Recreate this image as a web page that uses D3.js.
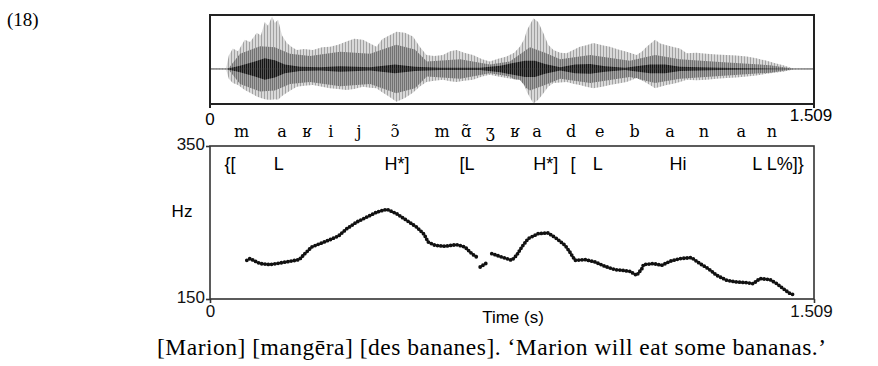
<!DOCTYPE html>
<html>
<head>
<meta charset="utf-8">
<script src="https://cdn.jsdelivr.net/npm/d3@7"></script>
<style>
  html, body { margin: 0; padding: 0; background: #fff; }
  svg { display: block; }
</style>
</head>
<body>
<svg id="fig" width="878" height="366"></svg>
<script>
// ---- data -------------------------------------------------------------
const duration = 1.509;

// waveform outer envelope (time s, upper / lower amplitude)
const waveTime = [0, 0.040, 0.047, 0.057, 0.070, 0.087, 0.100, 0.117, 0.127, 0.137, 0.145, 0.155, 0.162, 0.170, 0.180, 0.192, 0.205, 0.217, 0.235, 0.257, 0.280, 0.300, 0.320, 0.341, 0.360, 0.382, 0.400, 0.416, 0.430, 0.445, 0.466, 0.487, 0.507, 0.525, 0.541, 0.560, 0.582, 0.600, 0.616, 0.635, 0.657, 0.680, 0.699, 0.720, 0.741, 0.760, 0.774, 0.785, 0.792, 0.808, 0.820, 0.833, 0.845, 0.858, 0.875, 0.891, 0.910, 0.924, 0.940, 0.958, 0.980, 0.999, 1.020, 1.041, 1.066, 1.080, 1.091, 1.112, 1.125, 1.141, 1.160, 1.174, 1.191, 1.215, 1.241, 1.265, 1.291, 1.315, 1.341, 1.365, 1.391, 1.410, 1.432, 1.457, 1.509];
const waveUpper = [0, 0.01, 0.25, 0.38, 0.33, 0.54, 0.50, 0.67, 0.62, 0.87, 0.80, 0.97, 0.85, 0.91, 0.62, 0.48, 0.40, 0.35, 0.37, 0.35, 0.40, 0.41, 0.45, 0.51, 0.56, 0.54, 0.47, 0.41, 0.55, 0.61, 0.69, 0.67, 0.60, 0.40, 0.26, 0.24, 0.26, 0.33, 0.35, 0.30, 0.26, 0.18, 0.14, 0.19, 0.23, 0.30, 0.41, 0.55, 0.72, 0.94, 0.87, 0.66, 0.45, 0.35, 0.30, 0.29, 0.36, 0.41, 0.44, 0.48, 0.44, 0.41, 0.36, 0.32, 0.26, 0.33, 0.41, 0.54, 0.47, 0.44, 0.40, 0.38, 0.29, 0.30, 0.28, 0.27, 0.26, 0.25, 0.23, 0.20, 0.15, 0.11, 0.07, 0.01, 0];
const waveLower = [0, -0.01, -0.18, -0.26, -0.30, -0.39, -0.44, -0.51, -0.54, -0.56, -0.57, -0.57, -0.56, -0.57, -0.50, -0.44, -0.38, -0.33, -0.31, -0.30, -0.33, -0.36, -0.37, -0.39, -0.37, -0.33, -0.35, -0.36, -0.43, -0.50, -0.61, -0.54, -0.44, -0.32, -0.24, -0.22, -0.20, -0.23, -0.24, -0.22, -0.20, -0.14, -0.11, -0.14, -0.17, -0.19, -0.20, -0.30, -0.43, -0.64, -0.57, -0.45, -0.33, -0.26, -0.25, -0.24, -0.28, -0.30, -0.33, -0.36, -0.33, -0.30, -0.27, -0.24, -0.17, -0.22, -0.26, -0.36, -0.33, -0.30, -0.27, -0.24, -0.20, -0.21, -0.20, -0.18, -0.17, -0.16, -0.14, -0.12, -0.09, -0.07, -0.05, -0.01, 0];

// denser mid-grey body of the waveform (half amplitude)
const midTime = [0.045, 0.075, 0.125, 0.162, 0.200, 0.250, 0.325, 0.400, 0.465, 0.512, 0.542, 0.625, 0.699, 0.749, 0.799, 0.837, 0.875, 0.950, 1.049, 1.112, 1.174, 1.274, 1.399, 1.462];
const midAmp  = [0, 0.28, 0.42, 0.40, 0.28, 0.24, 0.32, 0.28, 0.45, 0.36, 0.14, 0.18, 0.08, 0.14, 0.40, 0.30, 0.18, 0.26, 0.15, 0.26, 0.18, 0.13, 0.07, 0];

// dark core of the waveform (half amplitude)
const coreTime = [0.040, 0.075, 0.112, 0.137, 0.162, 0.187, 0.225, 0.275, 0.325, 0.400, 0.462, 0.512, 0.575, 0.675, 0.725, 0.757, 0.787, 0.812, 0.837, 0.875, 0.912, 0.950, 0.987, 1.037, 1.099, 1.137, 1.174, 1.274, 1.449];
const coreAmp  = [0, 0.06, 0.14, 0.20, 0.16, 0.08, 0.04, 0.03, 0.05, 0.03, 0.08, 0.04, 0.02, 0.02, 0.06, 0.11, 0.15, 0.15, 0.09, 0.03, 0.08, 0.09, 0.05, 0.02, 0.08, 0.08, 0.04, 0.02, 0];

// F0 contour (s, Hz); null marks an unvoiced gap
const pitchTime = [0.092, 0.100, 0.125, 0.150, 0.175, 0.200, 0.223, 0.237, 0.254, 0.275, 0.300, 0.321, 0.342, 0.367, 0.392, 0.417, 0.442, 0.466, 0.491, 0.516, 0.535, 0.545, 0.562, 0.587, 0.616, 0.637, 0.654, 0.666, null, 0.675, 0.695, null, 0.704, 0.729, 0.754, 0.766, 0.779, 0.795, 0.820, 0.845, 0.866, 0.887, 0.899, 0.912, 0.937, 0.962, 0.987, 1.012, 1.029, 1.049, 1.066, 1.079, 1.083, 1.108, 1.129, 1.149, 1.174, 1.203, 1.224, 1.245, 1.266, 1.291, 1.316, 1.341, 1.357, 1.374, 1.399, 1.416, 1.432, 1.449, 1.457];
const pitchHz   = [200.6, 202.8, 196.3, 195.0, 197.1, 199.3, 201.5, 209.3, 218.0, 222.4, 227.6, 232.4, 242.0, 250.7, 257.2, 263.7, 267.3, 261.6, 252.9, 244.1, 234.6, 224.5, 220.2, 218.9, 221.1, 218.0, 209.3, 204.9, null, 191.8, 198.4, null, 209.3, 204.9, 200.6, 207.1, 218.0, 229.0, 235.5, 236.3, 229.0, 220.2, 211.4, 200.6, 201.5, 198.4, 192.7, 188.4, 187.5, 186.2, 181.0, 189.7, 195.0, 196.3, 194.1, 199.3, 202.8, 204.1, 196.3, 189.7, 181.0, 174.4, 172.2, 171.4, 170.1, 176.7, 175.4, 170.1, 163.6, 157.1, 155.8];

// segment transcription and tone tier (label, time s)
const segLabels = ["m", "a", "ʁ", "i", "j", "ɔ̃", "m", "ɑ̃", "ʒ", "ʁ", "a", "d", "e", "b", "a", "n", "a", "n"];
const segTimes  = [0.079, 0.180, 0.242, 0.302, 0.372, 0.462, 0.580, 0.640, 0.700, 0.762, 0.817, 0.902, 0.974, 1.061, 1.149, 1.234, 1.327, 1.404];
const toneLabels = ["{[", "L", "H*]", "[L", "H*]", "[", "L", "Hi", "L L%]}"];
const toneTimes  = [0.050, 0.172, 0.467, 0.642, 0.839, 0.907, 0.969, 1.169, 1.419];

const hzRange = [150, 350];
const timeTicks = [0, 1.509];
const exampleNumber = "(18)";
const caption = "[Marion] [mangēra] [des bananes]. ‘Marion will eat some bananas.’";

// ---- layout -----------------------------------------------------------
const svg = d3.select("#fig");
const left = 210, right = 814;
const wave = { top: 15, bottom: 104 };
const f0 = { top: 146, bottom: 299 };
const sans = "'Liberation Sans', Arial, sans-serif";
const serif = "'Liberation Serif', 'Times New Roman', serif";
const ipa = "'DejaVu Serif', serif";

const x = d3.scaleLinear().domain([0, duration]).range([left, right]);
const yWave = d3.scaleLinear().domain([-0.65, 1]).range([wave.bottom, wave.top]);
const yHz = d3.scaleLinear().domain(hzRange).range([f0.bottom, f0.top]);

// striped fills imitating individual glottal pulses
const defs = svg.append("defs");
function stripes(id, bg, fg, w) {
  const p = defs.append("pattern").attr("id", id)
    .attr("width", w).attr("height", 10).attr("patternUnits", "userSpaceOnUse");
  p.append("rect").attr("width", w).attr("height", 10).attr("fill", bg);
  p.append("rect").attr("width", 1).attr("height", 10).attr("fill", fg);
}
stripes("pulseLight", "#d9d9d9", "#a2a2a2", 3);
stripes("pulseMid", "#a4a4a4", "#727272", 2);
stripes("pulseDark", "#555555", "#151515", 2);

const outer = waveTime.map((t, i) => ({ t, hi: waveUpper[i], lo: waveLower[i] }));
const outerArea = d3.area().x(d => x(d.t)).y0(d => yWave(d.lo)).y1(d => yWave(d.hi));
defs.append("clipPath").attr("id", "waveClip")
  .append("path").attr("d", outerArea(outer));

// zero line
svg.append("line").attr("x1", left).attr("x2", right)
  .attr("y1", yWave(0)).attr("y2", yWave(0))
  .attr("stroke", "#777").attr("stroke-width", 1);

svg.append("path").attr("d", outerArea(outer)).attr("fill", "url(#pulseLight)");

const symArea = d3.area().x(d => x(d.t)).y0(d => yWave(-d.a)).y1(d => yWave(d.a));
const wg = svg.append("g").attr("clip-path", "url(#waveClip)");
wg.append("path")
  .attr("d", symArea(midTime.map((t, i) => ({ t, a: midAmp[i] }))))
  .attr("fill", "url(#pulseMid)");
wg.append("path")
  .attr("d", symArea(coreTime.map((t, i) => ({ t, a: coreAmp[i] }))))
  .attr("fill", "url(#pulseDark)");
svg.append("line").attr("x1", left).attr("x2", right)
  .attr("y1", yWave(0)).attr("y2", yWave(0))
  .attr("stroke", "#444").attr("stroke-width", 0.8).attr("opacity", 0.6);

// waveform frame
const frameColor = "#222";
svg.append("line").attr("x1", left - 1).attr("x2", right + 1)
  .attr("y1", wave.top).attr("y2", wave.top).attr("stroke", frameColor).attr("stroke-width", 2);
svg.append("line").attr("x1", left - 1).attr("x2", right + 1)
  .attr("y1", wave.bottom).attr("y2", wave.bottom).attr("stroke", frameColor).attr("stroke-width", 2);
[left, right].forEach(xx => {
  svg.append("line").attr("x1", xx).attr("x2", xx)
    .attr("y1", wave.top).attr("y2", wave.bottom + 4)
    .attr("stroke", frameColor).attr("stroke-width", 2);
});

// waveform time labels
svg.append("text").attr("x", x(timeTicks[0])).attr("y", 125)
  .attr("text-anchor", "middle").attr("font-family", sans).attr("font-size", 17)
  .text(d3.format("")(timeTicks[0]));
svg.append("text").attr("x", x(timeTicks[1]) - 3).attr("y", 121)
  .attr("text-anchor", "middle").attr("font-family", sans).attr("font-size", 17)
  .text(d3.format(".3f")(timeTicks[1]));

// segment tier
svg.append("g").selectAll("text").data(segLabels).join("text")
  .attr("x", (d, i) => x(segTimes[i])).attr("y", 137)
  .attr("text-anchor", "middle").attr("font-family", ipa).attr("font-size", 16)
  .text(d => d);

// pitch frame
svg.append("rect").attr("x", left).attr("y", f0.top)
  .attr("width", right - left).attr("height", f0.bottom - f0.top)
  .attr("fill", "none").attr("stroke", "#333").attr("stroke-width", 1.6);

// y axis end ticks (150 / 350)
const yAxis = d3.axisLeft(yHz).tickValues(hzRange).tickSize(4).tickPadding(0);
svg.append("g").attr("transform", `translate(${left},0)`).call(yAxis)
  .call(g => g.select(".domain").remove())
  .call(g => g.selectAll("line").attr("stroke", "#333").attr("stroke-width", 1.6))
  .call(g => g.selectAll("text").attr("font-family", sans).attr("font-size", 17)
    .attr("fill", "#111").attr("dy", "0.18em").attr("x", -5));

// x axis end ticks (0 / 1.509)
const xAxis = d3.axisBottom(x).tickValues(timeTicks).tickSize(4).tickPadding(2)
  .tickFormat(d => d === 0 ? "0" : d3.format(".3f")(d));
svg.append("g").attr("transform", `translate(0,${f0.bottom})`).call(xAxis)
  .call(g => g.select(".domain").remove())
  .call(g => g.selectAll("line").attr("stroke", "#333").attr("stroke-width", 1.6))
  .call(g => g.selectAll("text").attr("font-family", sans).attr("font-size", 17).attr("fill", "#111"))
  .call(g => g.selectAll(".tick:last-child text").attr("dx", -3));

svg.append("text").attr("x", 182).attr("y", 217).attr("text-anchor", "middle")
  .attr("font-family", sans).attr("font-size", 17).text("Hz");
svg.append("text").attr("x", (left + right) / 2 + 1).attr("y", 323).attr("text-anchor", "middle")
  .attr("font-family", sans).attr("font-size", 17).text("Time (s)");

// tone tier
svg.append("g").selectAll("text").data(toneLabels).join("text")
  .attr("x", (d, i) => x(toneTimes[i])).attr("y", 170)
  .attr("text-anchor", "middle").attr("font-family", sans).attr("font-size", 18)
  .text(d => d);

// F0 contour drawn as a run of dots
const pitch = pitchTime.map((t, i) => ({ t, hz: pitchHz[i] }));
const f0Line = d3.line().defined(d => d.t !== null && d.hz !== null)
  .x(d => x(d.t)).y(d => yHz(d.hz));
svg.append("path").attr("d", f0Line(pitch))
  .attr("fill", "none").attr("stroke", "#111").attr("stroke-width", 3.8)
  .attr("stroke-linecap", "round").attr("stroke-dasharray", "0 3.3");

// example number and caption
svg.append("text").attr("x", 7).attr("y", 26).attr("font-family", serif)
  .attr("font-size", 19).text(exampleNumber);
svg.append("text").attr("x", 157).attr("y", 355).attr("font-family", serif)
  .attr("font-size", 23.5).attr("textLength", 669).attr("lengthAdjust", "spacing")
  .text(caption);
</script>
</body>
</html>
